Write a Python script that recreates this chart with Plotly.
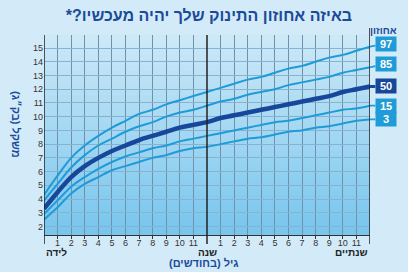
import plotly.graph_objects as go

months = list(range(0, 25))
p3  = [2.5,3.4,4.4,5.1,5.6,6.1,6.4,6.7,7.0,7.2,7.5,7.7,7.8,8.0,8.2,8.4,8.5,8.7,8.9,9.0,9.2,9.3,9.5,9.7,9.8]
p15 = [2.9,3.9,4.9,5.6,6.2,6.7,7.1,7.4,7.7,7.9,8.2,8.4,8.6,8.8,9.0,9.2,9.4,9.6,9.7,9.9,10.1,10.3,10.5,10.6,10.8]
p50 = [3.3,4.5,5.6,6.4,7.0,7.5,7.9,8.3,8.6,8.9,9.2,9.4,9.6,9.9,10.1,10.3,10.5,10.7,10.9,11.1,11.3,11.5,11.8,12.0,12.2]
p85 = [3.9,5.1,6.3,7.2,7.9,8.4,8.9,9.3,9.6,10.0,10.3,10.5,10.8,11.1,11.3,11.6,11.8,12.0,12.3,12.5,12.7,12.9,13.2,13.4,13.6]
p97 = [4.3,5.7,7.0,7.9,8.6,9.2,9.7,10.2,10.5,10.9,11.2,11.5,11.8,12.1,12.4,12.7,12.9,13.2,13.5,13.7,14.0,14.3,14.5,14.8,15.1]
series = [("97", p97), ("85", p85), ("50", p50), ("15", p15), ("3", p3)]

month_ticks = [1,2,3,4,5,6,7,8,9,10,11,13,14,15,16,17,18,19,20,21,22,23]
month_labels = [str(m if m < 12 else m - 12) for m in month_ticks]
y_ticks = list(range(2, 16))

RLM = "\u200f"
LIGHT = "#1f9bd8"
DARK = "#17479a"
NAVY = "#1b4a98"

fig = go.Figure()

for name, vals in series:
    is50 = name == "50"
    col = DARK if is50 else LIGHT
    w = 4.5 if is50 else 2
    fig.add_trace(go.Scatter(x=months, y=vals, mode="lines", line=dict(color=col, width=w, shape="spline"),
                             hoverinfo="skip", showlegend=False))
    fig.add_annotation(x=months[-1] - 0.01, y=vals[-1], xref="x", yref="y",
                       text="<b>%s</b>" % name, showarrow=True, arrowhead=0,
                       arrowcolor=col, arrowwidth=3 if is50 else 1.8,
                       ax=16, ay=-3 if name in ("97", "85") else 0, xanchor="center",
                       font=dict(family="Liberation Sans", size=11, color="white"),
                       bgcolor=col, width=18, height=12, borderpad=1)

shapes = []
n = 40
for i in range(n):
    t = i / (n - 1)
    r = int(205 + (120 - 205) * (1 - t))
    g = int(233 + (198 - 233) * (1 - t))
    b = int(248 + (238 - 248) * (1 - t))
    shapes.append(dict(type="rect", xref="x domain", yref="y domain", x0=0, x1=1,
                       y0=i / n, y1=(i + 1) / n + 0.002, fillcolor="rgb(%d,%d,%d)" % (r, g, b),
                       line=dict(width=0), layer="below"))
shapes.append(dict(type="line", xref="x", yref="y domain", x0=0, x1=0, y0=-0.045, y1=1.0,
                   line=dict(color="#222", width=1.5)))
shapes.append(dict(type="line", xref="x", yref="y domain", x0=12, x1=12, y0=-0.045, y1=1.0,
                   line=dict(color="#222", width=1.5)))
shapes.append(dict(type="line", xref="x", yref="y domain", x0=24, x1=24, y0=-0.045, y1=1.035,
                   line=dict(color="#222", width=1.5)))

fig.update_layout(
    width=408, height=272,
    margin=dict(l=44, r=38, t=35, b=37),
    paper_bgcolor="#d3ebf9",
    plot_bgcolor="rgba(0,0,0,0)",
    shapes=shapes,
    title=dict(text="<b>באיזה אחוזון התינוק שלך יהיה מעכשיו?*</b>" + RLM, x=0.512, xanchor="center",
               y=1 - 15 / 272, yanchor="middle",
               font=dict(family="Liberation Sans", size=16, color=NAVY)),
    xaxis=dict(range=[0, 24], tickvals=month_ticks, ticktext=month_labels,
               showgrid=True, gridcolor="#6f92aa", gridwidth=1,
               ticks="outside", ticklen=3, tickcolor="#333", tickwidth=1,
               ticklabelstandoff=-4,
               showline=True, linecolor="#333", linewidth=1.2,
               tickfont=dict(family="Liberation Sans", size=9, color="#333"),
               zeroline=False, fixedrange=True),
    yaxis=dict(range=[1.38, 15.95], tickvals=y_ticks,
               showgrid=True, gridcolor="#86b3d2", gridwidth=1,
               ticks="", showline=False,
               tickfont=dict(family="Liberation Sans", size=9, color="#333"),
               zeroline=False, fixedrange=True),
)

ann_font = dict(family="Liberation Sans", size=10, color="#222")
fig.add_annotation(x=0, y=-0.088, xref="x", yref="paper", text="<b>לידה</b>", showarrow=False,
                   xanchor="left", yanchor="middle", font=ann_font)
fig.add_annotation(x=12, y=-0.088, xref="x", yref="paper", text="<b>שנה</b>", showarrow=False,
                   xanchor="center", yanchor="middle", font=ann_font)
fig.add_annotation(x=24, y=-0.088, xref="x", yref="paper", text="<b>שנתיים</b>", showarrow=False,
                   xanchor="right", yanchor="middle", font=ann_font)
fig.add_annotation(x=11.8, y=-0.14, xref="x", yref="paper", text="<b>גיל (בחודשים)</b>" + RLM, showarrow=False,
                   xanchor="center", yanchor="middle",
                   font=dict(family="Liberation Sans", size=11, color=NAVY))
fig.add_annotation(x=-0.086, y=0.55, xref="paper", yref="paper", text="<b>משקל (בק״ג)</b>" + RLM, showarrow=False,
                   textangle=90, xanchor="center", yanchor="middle",
                   font=dict(family="Liberation Sans", size=11, color=NAVY))
fig.add_annotation(x=1.04, y=1.02, xref="paper", yref="paper", text="<b>אחוזון</b>", showarrow=False,
                   xanchor="center", yanchor="middle",
                   font=dict(family="Liberation Sans", size=10, color=NAVY))

fig.write_html("out.html")
